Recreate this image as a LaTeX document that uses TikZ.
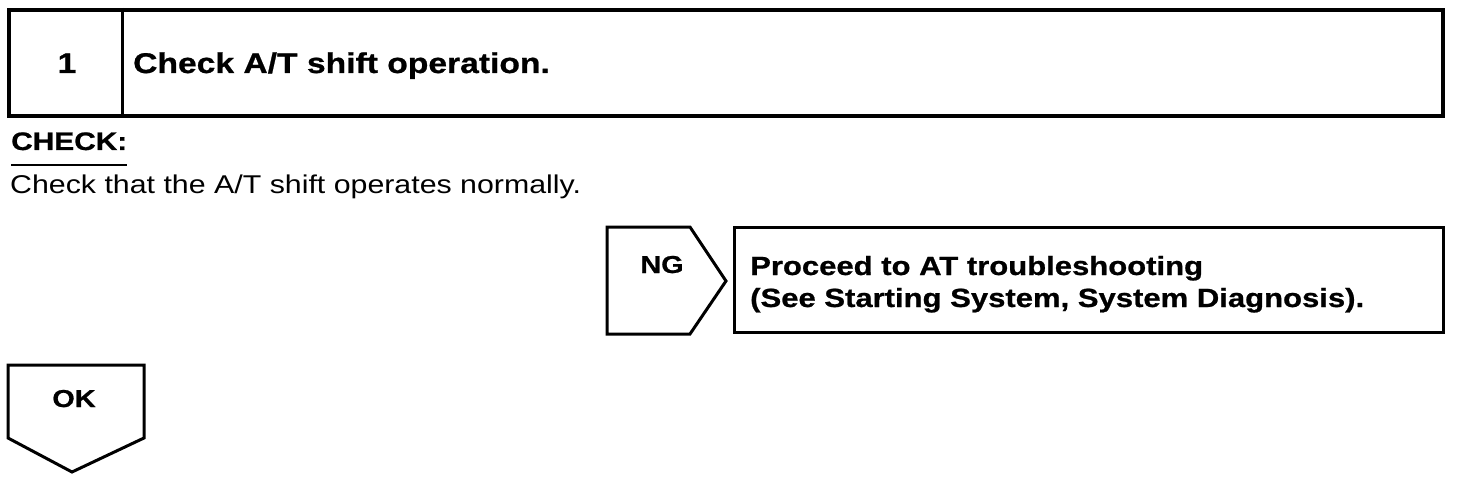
\documentclass[tikz,border=0pt]{standalone}
\usepackage{fontspec}
\setmainfont{Liberation Sans}[FakeStretch=1.18, BoldFeatures={FakeBold=0.8}]
\usepackage{tikz}
\usetikzlibrary{positioning,calc}

\begin{document}
\begin{tikzpicture}[
    x=1pt, y=1pt,
    box/.style={draw, line width=3pt, inner sep=0pt},
    head/.style={font=\bfseries\fontsize{28.5}{32}\selectfont, inner sep=0pt},
    body/.style={font=\fontsize{25.7}{30}\selectfont, inner sep=0pt},
    tag/.style={font=\bfseries\fontsize{24.5}{30}\selectfont, inner sep=0pt},
    note/.style={font=\bfseries\fontsize{26.3}{32}\selectfont, inner sep=0pt, anchor=base west},
]
\useasboundingbox (0,0) rectangle (1472,480);

% Step header
\node[box, line width=4pt, minimum width=1434, minimum height=106] (stepbox) at (726,417) {};
\draw[line width=3pt] ([xshift=115pt]stepbox.north west) -- ([xshift=115pt]stepbox.south west);
\node[head, anchor=base] (stepnum) at (67,407) {1};
\node[head, anchor=base west] (steptitle) at (133,407) {Check A/T shift operation.};

% Check text
\node[tag, font=\bfseries\fontsize{25.3}{30}\selectfont, anchor=base west] (check) at (11,330) {CHECK:};
\draw[line width=2pt] ([yshift=-15pt]check.south west) -- ([yshift=-15pt]check.south east);
\node[body, anchor=base west] (checktext) at (10,287) {Check that the A/T shift operates normally.};

% NG branch
\draw[line width=3pt, line join=miter] (607,253) -- (690,253) -- (726,199) -- (690,146) -- (607,146) -- cycle;
\node[tag, anchor=base] (ng) at (662,207) {NG};
\node[box, minimum width=709, minimum height=105] (proceed) at (1088.5,200.5) {};
\node[note] (proceedA) at (750,205) {Proceed to AT troubleshooting};
\node[note] (proceedB) at (750,173) {(See Starting System, System Diagnosis).};

% OK branch
\draw[line width=3pt, line join=miter] (8,115) -- (144,115) -- (144,42) -- (72,8) -- (8,42) -- cycle;
\node[tag, anchor=base] (ok) at (74,73) {OK};

\end{tikzpicture}
\end{document}
